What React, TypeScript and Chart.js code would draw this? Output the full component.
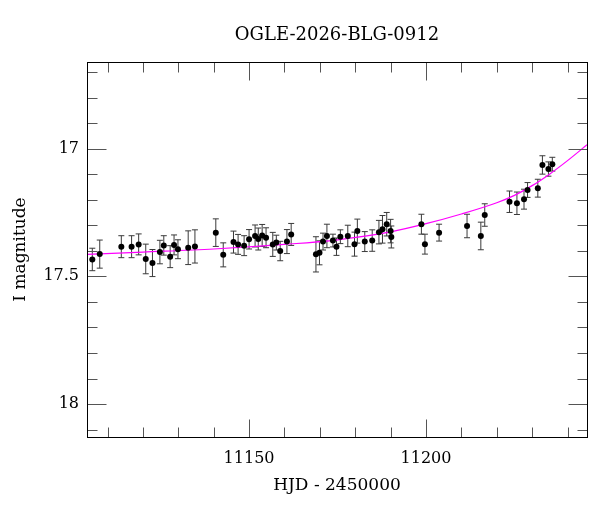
import React, { useEffect, useRef } from "react";
import { Chart, registerables } from "chart.js";

Chart.register(...registerables);

// Observations (HJD - 2450000)
const hjd = [
  11105.7, 11107.8, 11113.9, 11116.8, 11118.8, 11120.8, 11122.7, 11124.8, 11125.9, 11127.7,
  11128.8, 11129.9, 11132.8, 11134.7, 11140.6, 11142.7, 11145.6, 11146.9, 11148.6, 11150.0,
  11151.7, 11152.6, 11153.7, 11154.8, 11156.7, 11157.7, 11158.8, 11160.7, 11161.9, 11168.9,
  11169.9, 11170.9, 11172.0, 11173.7, 11174.7, 11175.8, 11177.9, 11179.8, 11180.6, 11182.7,
  11184.8, 11186.7, 11187.7, 11188.9, 11190.0, 11190.2, 11198.7, 11199.7, 11203.7, 11211.6,
  11215.5, 11216.6, 11223.6, 11225.7, 11227.7, 11228.7, 11231.6, 11232.9, 11234.6, 11235.7,
];
const imag = [
  17.434, 17.413, 17.384, 17.384, 17.375, 17.432, 17.448, 17.405, 17.379, 17.423,
  17.377, 17.394, 17.388, 17.383, 17.329, 17.416, 17.366, 17.375, 17.380, 17.355,
  17.342, 17.354, 17.340, 17.349, 17.375, 17.368, 17.401, 17.364, 17.336, 17.414,
  17.408, 17.364, 17.342, 17.360, 17.384, 17.345, 17.342, 17.374, 17.323, 17.364,
  17.360, 17.327, 17.316, 17.296, 17.323, 17.346, 17.296, 17.374, 17.329, 17.303,
  17.342, 17.260, 17.208, 17.214, 17.198, 17.162, 17.155, 17.064, 17.080, 17.061,
];
const ierr = [
  0.044, 0.055, 0.043, 0.043, 0.041, 0.058, 0.053, 0.046, 0.038, 0.043,
  0.039, 0.037, 0.066, 0.065, 0.054, 0.047, 0.043, 0.039, 0.039, 0.038,
  0.043, 0.043, 0.043, 0.039, 0.047, 0.029, 0.038, 0.047, 0.043, 0.069,
  0.047, 0.033, 0.046, 0.025, 0.034, 0.027, 0.042, 0.047, 0.047, 0.039,
  0.042, 0.046, 0.054, 0.046, 0.046, 0.043, 0.039, 0.039, 0.033, 0.046,
  0.054, 0.044, 0.042, 0.044, 0.039, 0.029, 0.035, 0.036, 0.028, 0.027,
];

// Model curve
const modelHjd = [11104.2, 11120, 11140, 11160, 11175, 11190, 11200, 11210, 11220, 11225, 11230, 11235, 11240, 11245.5];
const modelMag = [17.414, 17.405, 17.393, 17.375, 17.357, 17.326, 17.294, 17.256, 17.212, 17.183, 17.145, 17.099, 17.047, 16.985];

const xMin = 11104.2;
const xMax = 11245.5;
const yMin = 16.661;
const yMax = 18.129;
const xMajor = 50;
const yMajor = 0.5;

const TITLE = "OGLE-2026-BLG-0912";
const X_TITLE = "HJD - 2450000";
const Y_TITLE = "I magnitude";

const FONT = "'DejaVu Serif', serif";

const isMult = (v: number, m: number) => Math.abs(v / m - Math.round(v / m)) < 1e-6;

const errorBarPlugin = {
  id: "errorBars",
  beforeDatasetsDraw(chart: any) {
    const { ctx, scales } = chart;
    const xs = scales.x;
    const ys = scales.y;
    ctx.save();
    ctx.strokeStyle = "#3a3a3a";
    ctx.lineWidth = 1;
    ctx.beginPath();
    for (let i = 0; i < hjd.length; i++) {
      const px = xs.getPixelForValue(hjd[i]);
      const y1 = ys.getPixelForValue(imag[i] - ierr[i]);
      const y2 = ys.getPixelForValue(imag[i] + ierr[i]);
      ctx.moveTo(px, y1);
      ctx.lineTo(px, y2);
      ctx.moveTo(px - 3, y1);
      ctx.lineTo(px + 3, y1);
      ctx.moveTo(px - 3, y2);
      ctx.lineTo(px + 3, y2);
    }
    ctx.stroke();
    ctx.restore();
  },
};

const frameTicksPlugin = {
  id: "frameTicks",
  afterDraw(chart: any) {
    const { ctx, chartArea, scales } = chart;
    const xs = scales.x;
    const ys = scales.y;
    const left = Math.round(chartArea.left) + 0.5;
    const right = Math.round(chartArea.right) + 0.5;
    const top = Math.round(chartArea.top) + 0.5;
    const bottom = Math.round(chartArea.bottom) + 0.5;
    ctx.save();
    ctx.strokeStyle = "#555";
    ctx.lineWidth = 1;
    ctx.beginPath();
    xs.ticks.forEach((t: any) => {
      const px = Math.round(xs.getPixelForValue(t.value)) + 0.5;
      const len = isMult(t.value, xMajor) ? 18 : 10;
      ctx.moveTo(px, bottom);
      ctx.lineTo(px, bottom - len);
      ctx.moveTo(px, top);
      ctx.lineTo(px, top + len);
    });
    ys.ticks.forEach((t: any) => {
      const py = Math.round(ys.getPixelForValue(t.value)) + 0.5;
      const len = isMult(t.value, yMajor) ? 19 : 10;
      ctx.moveTo(left, py);
      ctx.lineTo(left + len, py);
      ctx.moveTo(right, py);
      ctx.lineTo(right - len, py);
    });
    ctx.stroke();
    ctx.strokeStyle = "#000";
    ctx.strokeRect(left, top, right - left, bottom - top);
    ctx.restore();
  },
};

export default function App() {
  const ref = useRef<HTMLCanvasElement | null>(null);

  useEffect(() => {
    if (!ref.current) return;
    Chart.defaults.color = "#000";
    const chart = new Chart(ref.current, {
      type: "scatter",
      data: {
        datasets: [
          {
            type: "line",
            label: "model",
            data: modelHjd.map((x, i) => ({ x, y: modelMag[i] })),
            borderColor: "#ff00ff",
            borderWidth: 1.2,
            pointRadius: 0,
            cubicInterpolationMode: "monotone",
            fill: false,
            order: 2,
          } as any,
          {
            label: "OGLE",
            data: hjd.map((x, i) => ({ x, y: imag[i] })),
            backgroundColor: "#000",
            borderColor: "#000",
            pointRadius: 3,
            pointBorderWidth: 0,
            order: 1,
          },
        ],
      },
      options: {
        responsive: false,
        animation: false,
        layout: { padding: { left: 0, right: 13, top: 0, bottom: 0 } },
        plugins: {
          legend: { display: false },
          tooltip: { enabled: false },
          title: { display: false },
        },
        scales: {
          x: {
            type: "linear",
            min: xMin,
            max: xMax,
            grid: { display: false, drawTicks: false },
            border: { display: false },
            ticks: {
              stepSize: 10,
              includeBounds: false,
              autoSkip: false,
              maxRotation: 0,
              padding: 12,
              color: "#000",
              font: { family: FONT, size: 16 },
              callback: (v: any) => (isMult(Number(v), xMajor) ? String(Math.round(Number(v))) : ""),
            },
            title: {
              display: true,
              text: X_TITLE,
              color: "#000",
              font: { family: FONT, size: 17 },
              padding: { top: 0, bottom: 16 },
            },
            afterFit: (s: any) => {
              s.height = 75;
            },
          },
          xTop: {
            type: "linear",
            position: "top",
            min: xMin,
            max: xMax,
            grid: { display: false, drawTicks: false },
            border: { display: false },
            ticks: { display: false },
            title: {
              display: true,
              text: TITLE,
              color: "#000",
              font: { family: FONT, size: 18 },
              padding: { top: 25, bottom: 0 },
            },
            afterFit: (s: any) => {
              s.height = 62;
            },
          },
          y: {
            type: "linear",
            reverse: true,
            min: yMin,
            max: yMax,
            grid: { display: false, drawTicks: false },
            border: { display: false },
            ticks: {
              stepSize: 0.1,
              includeBounds: false,
              autoSkip: false,
              padding: 8,
              color: "#000",
              font: { family: FONT, size: 16 },
              callback: (v: any) => {
                const n = Number(v);
                return isMult(n, yMajor) ? String(Math.round(n * 10) / 10) : "";
              },
            },
            title: {
              display: true,
              text: Y_TITLE,
              color: "#000",
              font: { family: FONT, size: 17 },
              padding: { top: 10, bottom: 0 },
            },
            afterFit: (s: any) => {
              s.width = 87;
            },
          },
        },
      },
      plugins: [errorBarPlugin, frameTicksPlugin],
    });
    return () => chart.destroy();
  }, []);

  return (
    <div style={{ position: "fixed", left: 0, top: 0, width: 600, height: 512, background: "#fff" }}>
      <canvas ref={ref} width={600} height={512} />
    </div>
  );
}
